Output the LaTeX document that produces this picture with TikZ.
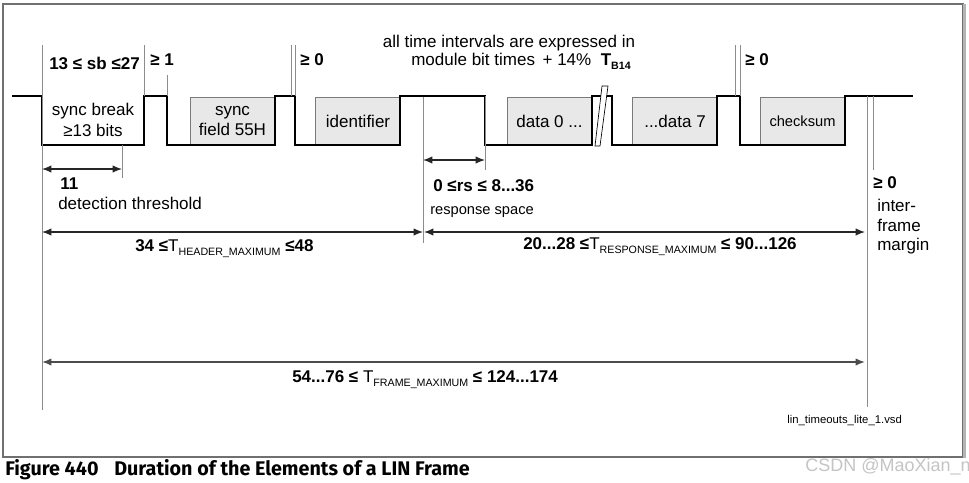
\documentclass[tikz,border=0pt]{standalone}
\usepackage{fontspec}
\setmainfont{Liberation Sans}
\newfontfamily\capfont{Fira Sans}
\usetikzlibrary{arrows.meta}
\definecolor{linframe}{HTML}{707070}
\definecolor{linshade}{HTML}{B4B4B4}
\definecolor{tickgray}{HTML}{8C8C8C}
\definecolor{boxfill}{HTML}{E8E8E8}
\definecolor{boxline}{HTML}{7A7A7A}
\definecolor{wmark}{HTML}{C4C4C4}
% T with a small subscript
\newcommand{\Tsub}[1]{\textmd{T}\raisebox{-0.45ex}{\fontsize{8}{8}\mdseries\selectfont #1}}
\newcommand{\Tbsub}[1]{T\raisebox{-0.45ex}{\fontsize{8}{8}\selectfont #1}}

\begin{document}
\begin{tikzpicture}[x=0.75pt, y=-0.75pt,
          every node/.style={font=\fontsize{12.75}{14.6}\selectfont, inner sep=0pt},
          sig/.style={line width=2.2pt, line join=miter},
          fb/.style={draw=boxline, fill=boxfill, line width=0.6pt, minimum width=63.75pt, minimum height=36pt, align=center},
          tk/.style={draw=tickgray, line width=0.6pt},
          dm/.style={{Latex[length=7pt,width=5.5pt]}-{Latex[length=7pt,width=5.5pt]}, line width=0.9pt, draw=black!85},
          lb/.style={anchor=west, font=\fontsize{12.75}{14.6}\selectfont\bfseries},
          tx/.style={anchor=west}]
        \useasboundingbox (0,0) rectangle (969,482);
        \draw[linframe, line width=1pt] (3,4) rectangle (963,457);
        \draw[linshade, line width=1.6pt] (964.5,4) -- (964.5,458);

        % field boxes
        \node[fb] (sf) at (232.5,121) {sync\\field 55H};
        \node[fb] (id) at (358,121) {identifier};
        \node[fb] (d0) at (549.5,121) {data 0 ...};
        \node[fb] (d7) at (675,121) {...data 7};
        \node[fb, font=\fontsize{11}{13}\selectfont] (cs) at (802.5,121) {checksum};
        \node[align=center] (sb) at (93,120) {sync break\\[1pt]≥13 bits};

        % bus signal
        \draw[sig] (12,96) -- (42,96) -- (42,145) -- (144,145) -- (144,96) -- (167,96) -- (167,145)
          -- (275,145) -- (275,96) -- (295,96) -- (295,145) -- (400,145) -- (400,96) -- (485,96)
          -- (485,145) -- (592,145) -- (592,96) -- (612,96) -- (612,145) -- (717,145) -- (717,96)
          -- (740,96) -- (740,145) -- (845,145) -- (845,96) -- (913,96);
        \draw[fill=white, line width=0.5pt] (602,86) -- (608,86) -- (600,146) -- (595,146) -- cycle;

        % guide lines
        \draw[tk] (42,45) -- (42,410);
        \draw[tk] (144,45) -- (144,96);
        \draw[tk] (167,75) -- (167,96);
        \draw[tk] (291.5,45) -- (291.5,96);
        \draw[tk] (295,45) -- (295,96);
        \draw[tk] (122,145) -- (122,178);
        \draw[tk] (423,97) -- (423,243);
        \draw[tk] (485,96) -- (485,170);
        \draw[tk] (735,45) -- (735,96);
        \draw[tk] (740,45) -- (740,96);
        \draw[tk] (867,96) -- (867,407);
        \draw[tk] (873,96) -- (873,170);

        % dimension ends
        \coordinate (thL) at (42,169);
        \coordinate (thR) at (122,169);
        \coordinate (rsL) at (423,160);
        \coordinate (rsR) at (485,160);
        \coordinate (hdL) at (42,232);
        \coordinate (hdR) at (423,232);
        \coordinate (rpL) at (424,232);
        \coordinate (rpR) at (865,232);
        \coordinate (frL) at (42,362);
        \coordinate (frR) at (865,362);
        \draw[dm] (thL) -- (thR);
        \draw[dm] (rsL) -- (rsR);
        \draw[dm] (hdL) -- (hdR);
        \draw[dm] (rpL) -- (rpR);
        \draw[dm, draw=black!70, line width=1.1pt] (frL) -- (frR);

        % labels
        \node[lb] (sbr) at (49,63) {13 ≤ sb ≤27};
        \node[lb] (g1) at (150,60) {≥ 1};
        \node[lb] (g0a) at (300,60) {≥ 0};
        \node[lb] (g0b) at (745,60) {≥ 0};
        \node (nt1) at (509,43) {all time intervals are expressed in};
        \node (nt2) at (521,61) {module bit times\, + 14\%\ \ \textbf{\Tbsub{B14}}};
        \node[lb] (n11) at (60,184) {11};
        \node[tx] (det) at (58,203) {detection threshold};
        \node[lb] (rs) at (433,186) {0 ≤rs ≤ 8...36};
        \node[tx, font=\fontsize{11}{13}\selectfont] (rsp) at (430,212) {response space};
        \node[lb] (hd) at (135,249) {34 ≤\Tsub{HEADER\_MAXIMUM} ≤48};
        \node[lb] (rp) at (523,247) {20...28 ≤\Tsub{RESPONSE\_MAXIMUM} ≤ 90...126};
        \node[lb] (fr) at (292,380) {54...76 ≤ \Tsub{FRAME\_MAXIMUM} ≤ 124...174};
        \node[lb] (g0c) at (873,183) {≥ 0};
        \node[tx, align=left] (ifm) at (877,227) {inter-\\frame\\margin};
        \node[tx, font=\fontsize{8.5}{10}\selectfont] (vsd) at (787,421) {lin\_timeouts\_lite\_1.vsd};
        \node[tx, font=\capfont\bfseries\fontsize{14.8}{17}\selectfont] (cap) at (5,470) {Figure 440\hspace{0.8em}Duration of the Elements of a LIN Frame};
        \node[tx, text=wmark, font=\fontsize{13.5}{16}\selectfont] (wm) at (805,467) {CSDN @MaoXian\_n};
      \end{tikzpicture}
\end{document}
